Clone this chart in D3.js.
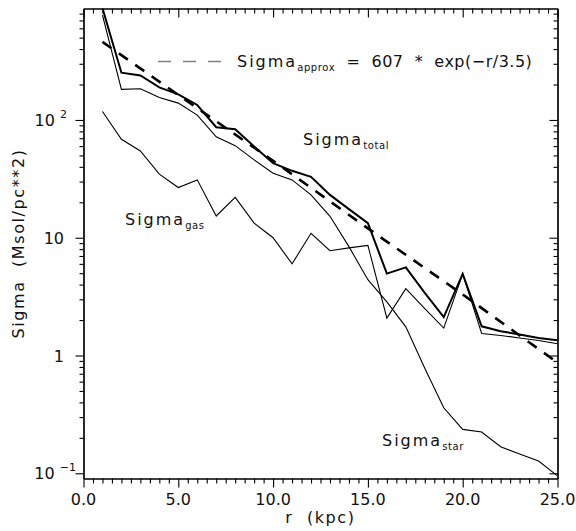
<!DOCTYPE html>
<html><head><meta charset="utf-8">
<script src="https://cdn.jsdelivr.net/npm/d3@7"></script>
<style>
body{margin:0;background:#fff;}
text{font-family:"DejaVu Sans",sans-serif;fill:#111;}
</style></head>
<body><svg id="c" width="576" height="531"></svg>
<script>
const radius = [1,2,3,4,5,6,7,8,9,10,11,12,13,14,15,16,17,18,19,20,21,22,23,24,25];
const sigmaTotal = [890,252,239,189,165,134,86.7,83.4,59.4,43,37,32.9,23.1,17.5,13.3,4.96,5.6,3.4,2.12,4.93,1.77,1.61,1.51,1.41,1.35];
const sigmaStar  = [778,182,184,155,139,110,72,60.5,45.8,35.3,31,23.1,15.2,8.4,4.4,2.85,1.75,0.78,0.36,0.236,0.224,0.168,0.146,0.127,0.095];
const sigmaGas   = [118,68.6,54.6,34.7,26.7,31,15.3,22,13.3,10,6.0,10.9,7.75,8.2,8.6,2.08,3.7,2.5,1.71,4.93,1.54,1.48,1.41,1.34,1.26];
const approxR = [1,5,10,15,20,25];
const approxV = [460,163,45,12,3.3,0.87];
const xTickLabels = ["0.0","5.0","10.0","15.0","20.0","25.0"];
const xTickValues = [0,5,10,15,20,25];
const yTickValues = [0.1,1,10,100];
const yTickBase = ["10","1","10","10"];
const yTickExp = ["\u22121","","","2"];

const svg = d3.select("#c");
const L=83.5, R=557.5, T=8.5, B=478.5;
const x = d3.scaleLinear().domain([0,25]).range([L,R]);
const y = d3.scaleLog().domain([0.0903,884]).range([B,T]);

svg.append("clipPath").attr("id","clip").append("rect")
  .attr("x",L).attr("y",T).attr("width",R-L).attr("height",B-T);
const g = svg.append("g").attr("clip-path","url(#clip)");

const line = d3.line().x(d=>x(d[0])).y(d=>y(d[1]));
const pts = arr => radius.map((r,i)=>[r,arr[i]]);

g.append("path").attr("d",line(pts(sigmaStar))).attr("fill","none").attr("stroke","#000").attr("stroke-width",1.1);
g.append("path").attr("d",line(pts(sigmaGas))).attr("fill","none").attr("stroke","#000").attr("stroke-width",1.1);
g.append("path").attr("d",line(pts(sigmaTotal))).attr("fill","none").attr("stroke","#000").attr("stroke-width",2);
g.append("path").attr("d",line(approxR.map((r,i)=>[r,approxV[i]]))).attr("fill","none")
  .attr("stroke","#000").attr("stroke-width",2.6).attr("stroke-dasharray","11,9");

// axes
const xMinor = d3.range(0,25.01,0.5).filter(v=>Math.abs(v%5)>1e-6);
const yMinor = [];
[0.1,1,10,100].forEach(d=>{for(let k=2;k<=9;k++){const v=d*k; if(v<884) yMinor.push(v);}});

function styleAxis(sel){sel.selectAll("path").attr("stroke","#000").attr("stroke-width",1.2);
  sel.selectAll("line").attr("stroke","#000").attr("stroke-width",1.1); sel.selectAll("text").remove();}

svg.append("g").attr("transform",`translate(0,${B})`).call(d3.axisBottom(x).tickValues(xMinor).tickSize(5).tickSizeOuter(0)).call(styleAxis);
svg.append("g").attr("transform",`translate(0,${B})`).call(d3.axisBottom(x).tickValues(xTickValues).tickSize(9).tickSizeOuter(0)).call(styleAxis);
svg.append("g").attr("transform",`translate(0,${T})`).call(d3.axisTop(x).tickValues(xMinor).tickSize(-5).tickSizeOuter(0)).call(styleAxis);
svg.append("g").attr("transform",`translate(0,${T})`).call(d3.axisTop(x).tickValues(xTickValues).tickSize(-9).tickSizeOuter(0)).call(styleAxis);
svg.append("g").attr("transform",`translate(${L},0)`).call(d3.axisLeft(y).tickValues(yMinor).tickSize(4).tickSizeOuter(0)).call(styleAxis);
svg.append("g").attr("transform",`translate(${L},0)`).call(d3.axisLeft(y).tickValues(yTickValues).tickSize(8).tickSizeOuter(0)).call(styleAxis);
svg.append("g").attr("transform",`translate(${R},0)`).call(d3.axisRight(y).tickValues(yMinor).tickSize(-4).tickSizeOuter(0)).call(styleAxis);
svg.append("g").attr("transform",`translate(${R},0)`).call(d3.axisRight(y).tickValues(yTickValues).tickSize(-8).tickSizeOuter(0)).call(styleAxis);

// x tick labels
xTickValues.forEach((v,i)=>{
  svg.append("text").attr("x",x(v)).attr("y",505).attr("text-anchor","middle").attr("font-size",16).text(xTickLabels[i]);
});
// y tick labels
yTickValues.forEach((v,i)=>{
  const t = svg.append("text").attr("y",y(v)+6).attr("font-size",16).attr("text-anchor","end");
  if(yTickExp[i]){
    t.attr("x",yTickExp[i].length>1?76:67);
    t.append("tspan").text(yTickBase[i]+" ");
    t.append("tspan").attr("font-size",11).attr("dy",-8).text(yTickExp[i]);
  } else {
    t.attr("x",64).text(yTickBase[i]);
  }
});

// axis titles
svg.append("text").attr("x",(L+R)/2).attr("y",523).attr("text-anchor","middle").attr("font-size",16)
  .attr("letter-spacing",1.6).style("white-space","pre").text("r  (kpc)");
svg.append("text").attr("transform",`translate(24,${(T+B)/2}) rotate(-90)`).attr("text-anchor","middle").attr("font-size",16)
  .attr("letter-spacing",1.6).style("white-space","pre").text("Sigma  (Msol/pc**2)");

// labels
function sublabel(xp,yp,main,sub){
  const t = svg.append("text").attr("x",xp).attr("y",yp).attr("font-size",16).style("white-space","pre");
  t.append("tspan").attr("letter-spacing",2).text(main);
  t.append("tspan").attr("font-size",10).attr("letter-spacing",0.6).attr("dy",4).text(sub);
  return t;
}
sublabel(303,145,"Sigma","total");
sublabel(125,225,"Sigma","gas");
sublabel(382,446,"Sigma","star");

// legend
svg.append("line").attr("x1",158).attr("x2",222).attr("y1",61.5).attr("y2",61.5)
  .attr("stroke","#808080").attr("stroke-width",1.6).attr("stroke-dasharray","13,12");
const lt = sublabel(237,67,"Sigma","approx");
lt.append("tspan").attr("dy",-4).attr("letter-spacing",0.5).text("  =  607  *  exp(\u2212r/3.5)");
</script></body></html>
